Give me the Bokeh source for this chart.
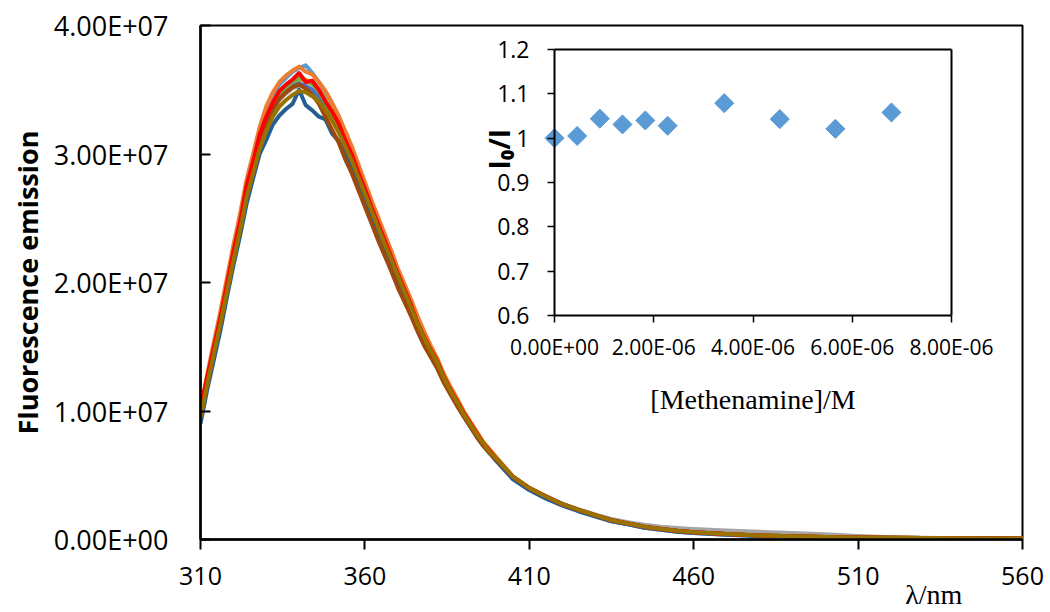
from math import pi
from bokeh.plotting import figure
from bokeh.models import Range1d, LinearAxis, FixedTicker, Label
from bokeh.embed import file_html
from bokeh.resources import INLINE

# ---------------- data ----------------
# wavelength grid (nm)
wl_head = list(range(310, 402, 2))          # 310 ... 400 nm
wl_tail = [405, 410, 415, 420, 425, 430, 435, 440, 445, 450, 455, 460,
           470, 480, 490, 500, 510, 520, 530, 540, 550, 560]

# fluorescence emission (x 1e6), 310-400 nm
s1_lightblue = [9.6, 12.2, 14.6, 17.0, 19.6, 22.2, 24.6, 27.3, 29.3, 31.6, 33.2, 34.5, 35.4, 35.9, 36.4, 36.7,
                36.9, 36.3, 35.6, 34.8, 33.7, 32.6, 31.4, 30.3, 28.9, 27.6, 26.2, 24.9, 23.5, 22.2, 20.9,
                19.6, 18.4, 17.1, 15.9, 14.9, 13.9, 12.6, 11.6, 10.7, 9.8, 8.9, 8.1, 7.4, 6.8, 6.2]
s2_orange = [10.0, 12.8, 15.3, 17.7, 20.3, 22.9, 25.3, 28.0, 30.0, 32.1, 33.7, 34.8, 35.6, 36.1, 36.5, 36.8,
             36.4, 36.2, 35.6, 34.9, 34.0, 33.0, 31.8, 30.6, 29.2, 27.8, 26.4, 25.1, 23.8, 22.5, 21.1,
             19.9, 18.7, 17.4, 16.2, 15.1, 14.1, 12.9, 11.9, 11.0, 10.0, 9.2, 8.4, 7.6, 7.0, 6.4]
s3_gray = [9.4, 12.0, 14.4, 16.8, 19.3, 21.9, 24.2, 26.8, 28.8, 30.8, 32.2, 33.3, 34.2, 34.7, 35.1, 35.3,
           35.2, 34.8, 34.3, 33.5, 32.7, 31.8, 30.6, 29.5, 28.2, 26.9, 25.6, 24.3, 23.0, 21.8, 20.5,
           19.3, 18.1, 16.8, 15.7, 14.7, 13.8, 12.6, 11.6, 10.7, 9.8, 9.0, 8.2, 7.4, 6.8, 6.3]
s4_gold = [9.7, 12.3, 14.7, 17.1, 19.6, 22.2, 24.5, 27.2, 29.1, 31.1, 32.6, 33.7, 34.6, 35.1, 35.5, 35.7,
           35.8, 35.5, 35.0, 34.2, 33.3, 32.3, 31.1, 30.0, 28.6, 27.3, 25.9, 24.6, 23.3, 22.0, 20.7,
           19.5, 18.3, 17.0, 15.8, 14.8, 13.9, 12.7, 11.7, 10.8, 9.9, 9.1, 8.3, 7.5, 6.9, 6.3]
s5_blue = [9.5, 12.1, 14.5, 16.9, 19.4, 22.0, 24.3, 27.0, 28.9, 30.9, 32.4, 33.5, 34.4, 34.9, 35.3, 35.5,
           35.3, 35.0, 34.5, 33.7, 32.9, 31.9, 30.8, 29.6, 28.3, 27.0, 25.7, 24.3, 23.0, 21.8, 20.5,
           19.3, 18.1, 16.8, 15.7, 14.7, 13.7, 12.5, 11.5, 10.6, 9.7, 8.9, 8.1, 7.4, 6.8, 6.2]
s6_green = [9.8, 12.4, 14.8, 17.2, 19.7, 22.3, 24.6, 27.2, 29.2, 31.2, 32.7, 33.8, 34.7, 35.2, 35.6, 35.9,
            35.7, 35.4, 34.9, 34.0, 33.1, 32.1, 30.9, 29.8, 28.4, 27.1, 25.8, 24.5, 23.2, 21.9, 20.6,
            19.4, 18.2, 16.9, 15.7, 14.7, 13.8, 12.6, 11.6, 10.7, 9.8, 9.0, 8.2, 7.5, 6.8, 6.3]
s7_darkblue = [9.0, 11.6, 13.9, 16.2, 18.8, 21.3, 23.6, 26.1, 28.1, 30.0, 31.1, 32.3, 33.0, 33.5, 33.9, 35.0,
               33.8, 33.4, 32.9, 32.7, 31.6, 31.0, 30.0, 29.0, 27.8, 26.6, 25.3, 24.0, 22.8, 21.6, 20.3,
               19.1, 17.9, 16.7, 15.5, 14.5, 13.6, 12.4, 11.4, 10.5, 9.6, 8.8, 8.0, 7.3, 6.7, 6.1]
s8_brown = [9.6, 12.2, 14.6, 17.0, 19.5, 22.1, 24.4, 27.0, 29.0, 31.0, 32.4, 33.5, 34.3, 34.8, 35.2, 35.4,
            35.1, 34.6, 33.9, 32.9, 31.9, 30.9, 29.6, 28.5, 27.2, 25.9, 24.6, 23.3, 22.1, 20.9, 19.6,
            18.5, 17.4, 16.2, 15.1, 14.2, 13.3, 12.2, 11.3, 10.4, 9.6, 8.8, 8.0, 7.3, 6.7, 6.2]
s9_red = [10.3, 12.6, 14.9, 17.2, 19.8, 22.4, 24.7, 27.5, 29.4, 31.5, 32.9, 34.0, 34.9, 35.4, 35.8, 36.3,
          35.6, 35.7, 35.0, 34.1, 33.3, 32.4, 31.1, 30.0, 28.6, 27.3, 25.9, 24.6, 23.3, 22.0, 20.7,
          19.5, 18.3, 16.9, 15.8, 14.8, 13.9, 12.7, 11.7, 10.8, 9.9, 9.1, 8.3, 7.5, 6.9, 6.3]
s10_olive = [9.5, 12.0, 14.4, 16.7, 19.2, 21.7, 24.0, 26.6, 28.5, 30.4, 31.8, 32.9, 33.7, 34.2, 34.6, 34.9,
             34.8, 34.5, 34.1, 33.4, 32.6, 31.7, 30.6, 29.5, 28.2, 26.9, 25.6, 24.3, 23.0, 21.8, 20.5,
             19.3, 18.1, 16.8, 15.7, 14.7, 13.8, 12.6, 11.6, 10.7, 9.8, 9.0, 8.2, 7.5, 6.8, 6.3]

# tails 405-560 nm (x 1e6)
tail_common = [4.9, 4.0, 3.35, 2.75, 2.3, 1.9, 1.5, 1.25, 1.0, 0.82, 0.68, 0.57,
               0.42, 0.32, 0.25, 0.2, 0.16, 0.13, 0.11, 0.09, 0.08, 0.07]
tail_gray = [4.9, 4.0, 3.4, 2.8, 2.35, 1.95, 1.6, 1.35, 1.15, 1.0, 0.9, 0.82,
             0.7, 0.6, 0.5, 0.4, 0.28, 0.18, 0.13, 0.1, 0.09, 0.08]
tail_blue = [4.7, 3.85, 3.2, 2.65, 2.2, 1.8, 1.42, 1.18, 0.92, 0.75, 0.6, 0.5,
             0.36, 0.27, 0.2, 0.16, 0.13, 0.11, 0.09, 0.08, 0.07, 0.06]

series_colors = ["#5B9BD5", "#ED7D31", "#A5A5A5", "#FFC000", "#4472C4",
                 "#70AD47", "#255E91", "#9E480E", "#FF0000", "#997300"]

# inset: Stern-Volmer
conc_M = [0.0, 0.457e-6, 0.913e-6, 1.37e-6, 1.83e-6, 2.28e-6, 3.42e-6, 4.54e-6, 5.66e-6, 6.79e-6]
i0_over_i = [1.000, 1.005, 1.044, 1.031, 1.040, 1.028, 1.079, 1.043, 1.021, 1.058]

# ticks / labels
main_x_ticks = [310, 360, 410, 460, 510, 560]
main_y_ticks = [0, 10000000, 20000000, 30000000, 40000000]
main_y_labels = ["0.00E+00", "1.00E+07", "2.00E+07", "3.00E+07", "4.00E+07"]
inset_x_ticks = [0.0, 2e-6, 4e-6, 6e-6, 8e-6]
inset_x_labels = ["0.00E+00", "2.00E-06", "4.00E-06", "6.00E-06", "8.00E-06"]
inset_y_ticks = [0.6, 0.7, 0.8, 0.9, 1.0, 1.1, 1.2]
inset_y_labels = ["0.6", "0.7", "0.8", "0.9", "1", "1.1", "1.2"]
x_title = "λ/nm"
x_title_at = 533          # wavelength under which the x title is centred

# ---------------- layout geometry (pixels) ----------------
W, H = 1050, 612
FRAME_L, FRAME_R, FRAME_T, FRAME_B = 200, 1022, 25, 539
INSET_L, INSET_R, INSET_T, INSET_B = 554, 951, 49, 315

TICK_FONT = "Open Sans"

p = figure(width=W, height=H, output_backend="svg", toolbar_location=None,
           x_range=Range1d(310, 560), y_range=Range1d(0, 40000000),
           min_border_left=FRAME_L, min_border_right=W - FRAME_R,
           min_border_top=FRAME_T, min_border_bottom=H - FRAME_B)
p.background_fill_color = "white"
p.border_fill_color = "white"
p.outline_line_color = "black"
p.outline_line_width = 2
p.xgrid.visible = False
p.ygrid.visible = False

# main x axis
xa = p.below[0]
xa.ticker = FixedTicker(ticks=main_x_ticks)
xa.axis_line_color = "black"
xa.axis_line_width = 2.5
xa.major_tick_line_color = "black"
xa.major_tick_line_width = 2
xa.major_tick_out = 10
xa.major_tick_in = 0
xa.minor_tick_line_color = None
xa.major_label_standoff = 17
xa.major_label_text_font = TICK_FONT
xa.major_label_text_font_size = "25px"
xa.major_label_text_color = "black"

# x-axis title: a rule-less axis stacked below, carrying the title as its only label
lam_ax = LinearAxis(ticker=FixedTicker(ticks=[x_title_at]),
                    major_label_overrides={x_title_at: x_title})
lam_ax.axis_line_color = None
lam_ax.major_tick_line_color = None
lam_ax.minor_tick_line_color = None
lam_ax.major_tick_out = 0
lam_ax.major_tick_in = 0
lam_ax.major_label_standoff = -9
lam_ax.major_label_text_font = "Liberation Serif"
lam_ax.major_label_text_font_size = "28px"
lam_ax.major_label_text_color = "black"
p.add_layout(lam_ax, "below")

# main y axis
ya = p.left[0]
ya.ticker = FixedTicker(ticks=main_y_ticks)
ya.major_label_overrides = dict(zip(main_y_ticks, main_y_labels))
ya.axis_line_color = "black"
ya.axis_line_width = 2.5
ya.major_tick_line_color = "black"
ya.major_tick_line_width = 2
ya.major_tick_out = 0
ya.major_tick_in = 10
ya.minor_tick_line_color = None
ya.major_label_standoff = 32
ya.major_label_text_font = TICK_FONT
ya.major_label_text_font_size = "27px"
ya.major_label_text_color = "black"
ya.axis_label = "Fluorescence emission"
ya.axis_label_text_font = TICK_FONT
ya.axis_label_text_font_style = "bold"
ya.axis_label_text_font_size = "27px"
ya.axis_label_text_color = "black"
ya.axis_label_standoff = 5

# fluorescence curves
heads = [s1_lightblue, s2_orange, s3_gray, s4_gold, s5_blue,
         s6_green, s7_darkblue, s8_brown, s9_red, s10_olive]
tails = [tail_blue, tail_common, tail_gray, tail_common, tail_common,
         tail_common, tail_blue, tail_common, tail_common, tail_common]
for head, tail, color in zip(heads, tails, series_colors):
    xs = wl_head + wl_tail
    ys = [v * 1e6 for v in head + tail]
    p.line(xs, ys, line_color=color, line_width=4, line_join="round")

# ---------------- inset (extra ranges inside same frame) ----------------
ix0, ix1 = inset_x_ticks[0], inset_x_ticks[-1]
iy0, iy1 = inset_y_ticks[0], inset_y_ticks[-1]
kx = (ix1 - ix0) / (INSET_R - INSET_L)
ky = (iy1 - iy0) / (INSET_B - INSET_T)
p.extra_x_ranges = {"ix": Range1d(ix0 - (INSET_L - FRAME_L) * kx, ix1 + (FRAME_R - INSET_R) * kx)}
p.extra_y_ranges = {"iy": Range1d(iy0 - (FRAME_B - INSET_B) * ky, iy1 + (INSET_T - FRAME_T) * ky)}

ib = LinearAxis(x_range_name="ix", y_range_name="iy", fixed_location=iy0, bounds=(ix0, ix1),
                ticker=FixedTicker(ticks=inset_x_ticks),
                major_label_overrides=dict(zip(inset_x_ticks, inset_x_labels)))
ib.axis_line_color = "black"
ib.axis_line_width = 2
ib.major_tick_line_color = "black"
ib.major_tick_line_width = 1.5
ib.major_tick_out = 7
ib.major_tick_in = 0
ib.minor_tick_line_color = None
ib.major_label_standoff = 10
ib.major_label_text_font = TICK_FONT
ib.major_label_text_font_size = "21px"
ib.major_label_text_color = "black"
ib.axis_label = "[Methenamine]/M"
ib.axis_label_text_font = "Liberation Serif"
ib.axis_label_text_font_style = "normal"
ib.axis_label_text_font_size = "28px"
ib.axis_label_text_color = "black"
ib.axis_label_standoff = 20
p.add_layout(ib, "below")

il = LinearAxis(x_range_name="ix", y_range_name="iy", fixed_location=ix0, bounds=(iy0, iy1),
                ticker=FixedTicker(ticks=inset_y_ticks),
                major_label_overrides=dict(zip(inset_y_ticks, inset_y_labels)))
il.axis_line_color = "black"
il.axis_line_width = 2
il.major_tick_line_color = "black"
il.major_tick_line_width = 1.5
il.major_tick_out = 7
il.major_tick_in = 0
il.minor_tick_line_color = None
il.major_label_standoff = 18
il.major_label_text_font = TICK_FONT
il.major_label_text_font_size = "23px"
il.major_label_text_color = "black"
p.add_layout(il, "left")

it = LinearAxis(x_range_name="ix", y_range_name="iy", fixed_location=iy1, bounds=(ix0, ix1),
                ticker=FixedTicker(ticks=[]))
it.axis_line_color = "black"
it.axis_line_width = 2
it.major_tick_line_color = None
it.minor_tick_line_color = None
p.add_layout(it, "above")

ir = LinearAxis(x_range_name="ix", y_range_name="iy", fixed_location=ix1, bounds=(iy0, iy1),
                ticker=FixedTicker(ticks=[]))
ir.axis_line_color = "black"
ir.axis_line_width = 2
ir.major_tick_line_color = None
ir.minor_tick_line_color = None
p.add_layout(ir, "right")

p.scatter(conc_M, i0_over_i, marker="square", angle=pi / 4, size=13.5,
          fill_color="#5B9BD5", line_color="#5B9BD5",
          x_range_name="ix", y_range_name="iy")

p.add_layout(Label(x=-1.12e-6, y=0.975, x_range_name="ix", y_range_name="iy",
                   text="I₀/I", angle=pi / 2, text_align="center", text_baseline="middle",
                   text_font=TICK_FONT, text_font_style="bold", text_font_size="28px",
                   text_color="black"))

open("out.html", "w").write(file_html(p, INLINE))
